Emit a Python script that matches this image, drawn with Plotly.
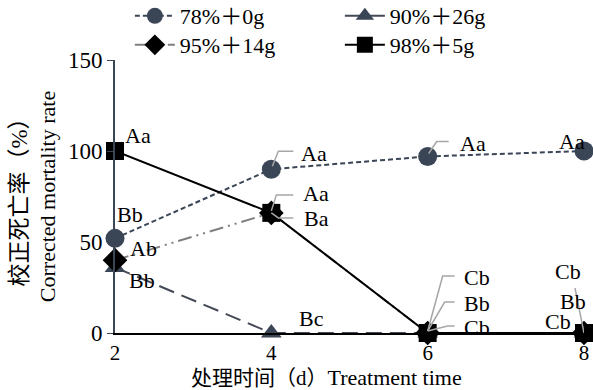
import plotly.graph_objects as go

# Treatment time (days)
days = [2, 4, 6, 8]

# Corrected mortality rate (%) for each treatment
series_names = ["78%＋0g", "90%＋26g", "95%＋14g", "98%＋5g"]
mort_78 = [52, 90, 97, 100]
mort_90 = [36, 0, 0, 0]
mort_95 = [40, 66, 0, 0]
mort_98 = [100, 66, 0, 0]

# Significance letters for each point
letters_78 = ["Bb", "Aa", "Aa", "Aa"]
letters_90 = ["Bb", "Bc", "Cb", "Cb"]
letters_95 = ["Ab", "Aa", "Bb", "Bb"]
letters_98 = ["Aa", "Ba", "Cb", "Cb"]

y_ticks = [0, 50, 100, 150]

SERIF = "Liberation Serif, Noto Sans CJK SC"
SLATE = "#3a4556"
LEADER = "#a6a6a6"
FS = 22

fig = go.Figure()

fig.add_trace(go.Scatter(
    x=days, y=mort_78, name=series_names[0], mode="lines+markers", legend="legend",
    line=dict(color=SLATE, width=2, dash="5px,3px"),
    marker=dict(symbol="circle", size=19, color=SLATE),
    cliponaxis=False))
fig.add_trace(go.Scatter(
    x=days, y=mort_90, name=series_names[1], mode="lines+markers", legend="legend",
    line=dict(color="#444a55", width=2, dash="16px,8px"),
    marker=dict(symbol="triangle-up", size=18, color=SLATE),
    cliponaxis=False))
fig.add_trace(go.Scatter(
    x=days, y=mort_95, name=series_names[2], mode="lines+markers", legend="legend2",
    line=dict(color="#7f7f7f", width=2, dash="14px,5px,2px,5px,2px,5px"),
    marker=dict(symbol="diamond", size=19, color="black"),
    cliponaxis=False))
fig.add_trace(go.Scatter(
    x=days, y=mort_98, name=series_names[3], mode="lines+markers", legend="legend2",
    line=dict(color="black", width=2),
    marker=dict(symbol="square", size=18, color="black"),
    cliponaxis=False))

# Label placement relative to each point, in pixels (up is positive):
# (text dx, text dy, leader-line path or None)
place_78 = [(15, 24, None),
            (43, 16, "M1,3 L7,18 L22,18"),
            (45, 13, "M1,3 L9,15 L21,15"),
            (-12, 10, None)]
place_90 = [(27, -13, None),
            (40, 15, None),
            (49, 56, "M0,2 L15,57 L27,57"),
            (-16, 62, "M0,0 L-9,45")]
place_95 = [(28, 12, None),
            (45, 19, "M0,2 L5,18 L22,18"),
            (49, 30, "M0,2 L17,31 L27,31"),
            (-11, 32, None)]
place_98 = [(23, 16, None),
            (45, -6, "M0,0 L7,-5 L22,-5"),
            (49, 6, "M0,2 L20,7 L27,7"),
            (-26, 12, None)]

annotations = []
shapes = []
for vals, labs, places in [(mort_78, letters_78, place_78),
                           (mort_90, letters_90, place_90),
                           (mort_95, letters_95, place_95),
                           (mort_98, letters_98, place_98)]:
    for xv, yv, lab, (dx, dy, path) in zip(days, vals, labs, places):
        annotations.append(dict(
            x=xv, y=yv, xref="x", yref="y", text=lab, showarrow=False,
            xshift=dx, yshift=dy,
            font=dict(family=SERIF, size=FS, color="black")))
        if path:
            shapes.append(dict(
                type="path", path=path, xref="x", yref="y",
                xsizemode="pixel", ysizemode="pixel", xanchor=xv, yanchor=yv,
                line=dict(color=LEADER, width=1.5), layer="above"))

# Horizontal axis title, centred a little left of the plot middle
annotations.append(dict(
    text="<span style='font-size:21px'>处理时间（d）</span>Treatment time",
    xref="paper", yref="paper", x=0.452, y=-0.163,
    xanchor="center", yanchor="middle", showarrow=False,
    font=dict(family=SERIF, size=22, color="black")))

legend_style = dict(
    orientation="h", xref="container", yref="container",
    xanchor="left", yanchor="middle",
    entrywidth=155, entrywidthmode="pixels",
    font=dict(family=SERIF, size=FS, color="black"),
    bgcolor="rgba(0,0,0,0)", itemwidth=40)

fig.update_layout(
    width=593, height=390,
    margin=dict(l=115, r=9, t=60, b=57, autoexpand=False),
    paper_bgcolor="white", plot_bgcolor="white",
    font=dict(family=SERIF, size=FS, color="black"),
    showlegend=True,
    legend=dict(legend_style, x=0.219, y=1 - 16 / 390),
    legend2=dict(legend_style, x=0.219, y=1 - 45 / 390),
    annotations=annotations,
    shapes=shapes,
    xaxis=dict(
        range=[2, 8], tickvals=days, ticktext=[str(d) for d in days],
        showline=True, linecolor="black", linewidth=2,
        ticks="", showgrid=False, zeroline=False,
        tickfont=dict(family=SERIF, size=21)),
    yaxis=dict(
        range=[0, 150], tickvals=y_ticks,
        showline=True, linecolor=SLATE, linewidth=2,
        ticks="outside", ticklen=6, tickcolor=SLATE, tickwidth=1,
        showgrid=False, zeroline=False,
        tickfont=dict(family=SERIF, size=23),
        title=dict(text="<span style='font-size:23px'>校正死亡率（%）</span><br>Corrected mortality rate",
                   standoff=6, font=dict(family=SERIF, size=22))),
)

fig.write_html("out.html")
